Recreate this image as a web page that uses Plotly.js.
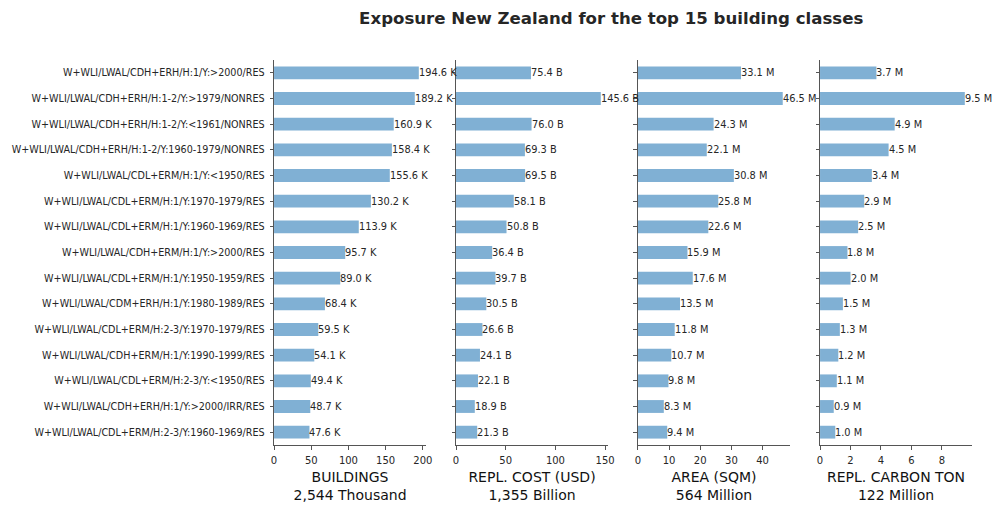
<!DOCTYPE html>
<html>
<head>
<meta charset="utf-8">
<script src="https://cdn.plot.ly/plotly-3.0.1.min.js"></script>
<style>html,body{margin:0;padding:0;background:#fff;}#chart{width:1002px;height:510px;}</style>
</head>
<body>
<div id="chart"></div>
<script>
// Top 15 building classes, New Zealand exposure
const classes = [
  "W+WLI/LWAL/CDH+ERH/H:1/Y:>2000/RES",
  "W+WLI/LWAL/CDH+ERH/H:1-2/Y:>1979/NONRES",
  "W+WLI/LWAL/CDH+ERH/H:1-2/Y:<1961/NONRES",
  "W+WLI/LWAL/CDH+ERH/H:1-2/Y:1960-1979/NONRES",
  "W+WLI/LWAL/CDL+ERM/H:1/Y:<1950/RES",
  "W+WLI/LWAL/CDL+ERM/H:1/Y:1970-1979/RES",
  "W+WLI/LWAL/CDL+ERM/H:1/Y:1960-1969/RES",
  "W+WLI/LWAL/CDH+ERM/H:1/Y:>2000/RES",
  "W+WLI/LWAL/CDL+ERM/H:1/Y:1950-1959/RES",
  "W+WLI/LWAL/CDM+ERH/H:1/Y:1980-1989/RES",
  "W+WLI/LWAL/CDL+ERM/H:2-3/Y:1970-1979/RES",
  "W+WLI/LWAL/CDH+ERM/H:1/Y:1990-1999/RES",
  "W+WLI/LWAL/CDL+ERM/H:2-3/Y:<1950/RES",
  "W+WLI/LWAL/CDH+ERH/H:1/Y:>2000/IRR/RES",
  "W+WLI/LWAL/CDL+ERM/H:2-3/Y:1960-1969/RES"
];

// Buildings (thousands)
const buildings = [194.6, 189.2, 160.9, 158.4, 155.6, 130.2, 113.9, 95.7, 89.0, 68.4, 59.5, 54.1, 49.4, 48.7, 47.6];
// Replacement cost (billion USD)
const replCost = [75.4, 145.6, 76.0, 69.3, 69.5, 58.1, 50.8, 36.4, 39.7, 30.5, 26.6, 24.1, 22.1, 18.9, 21.3];
// Floor area (million sqm)
const area = [33.1, 46.5, 24.3, 22.1, 30.8, 25.8, 22.6, 15.9, 17.6, 13.5, 11.8, 10.7, 9.8, 8.3, 9.4];
// Replacement carbon (million tons)
const carbon = [3.7, 9.5, 4.9, 4.5, 3.4, 2.9, 2.5, 1.8, 2.0, 1.5, 1.3, 1.2, 1.1, 0.9, 1.0];

const panelTitles = ["BUILDINGS<br>2,544 Thousand", "REPL. COST (USD)<br>1,355 Billion", "AREA (SQM)<br>564 Million", "REPL. CARBON TON<br>122 Million"];
const panelUnits = ["K", "B", "M", "M"];
const panelTicks = [50, 50, 10, 2];

const series = [buildings, replCost, area, carbon];
const barColor = "#80b0d4";
const inkColor = "#262626";
const axisColor = "#555555";
const font = "DejaVu Sans, sans-serif";

const domains = [[0.2735, 0.4252], [0.4551, 0.6068], [0.6367, 0.7884], [0.8184, 0.9701]];

const traces = series.map((vals, i) => ({
  type: "bar",
  orientation: "h",
  x: vals,
  y: classes,
  xaxis: i === 0 ? "x" : "x" + (i + 1),
  yaxis: i === 0 ? "y" : "y" + (i + 1),
  marker: {color: barColor},
  width: 0.5,
  hoverinfo: "x+y",
  showlegend: false
}));

// Value labels placed just past the end of each bar
const annotations = [];
series.forEach((vals, i) => {
  const sfx = i === 0 ? "" : String(i + 1);
  vals.forEach((v, k) => {
    annotations.push({
      x: v, y: classes[k],
      xref: "x" + sfx, yref: "y" + sfx,
      text: v.toFixed(1) + " " + panelUnits[i],
      showarrow: false,
      xanchor: "left", yanchor: "middle",
      xshift: -1,
      borderpad: 0,
      font: {family: font, size: 9.8, color: inkColor}
    });
  });
});

const layout = {
  width: 1002,
  height: 510,
  margin: {l: 0, r: 0, t: 60, b: 65},
  paper_bgcolor: "#ffffff",
  plot_bgcolor: "rgba(0,0,0,0)",
  font: {family: font, color: inkColor},
  title: {
    text: "<b>Exposure New Zealand for the top 15 building classes</b>",
    font: {family: font, size: 16.6, color: inkColor},
    x: 0.61, xanchor: "center", y: 0.975, yanchor: "top"
  },
  bargap: 0.5,
  annotations: annotations
};

series.forEach((vals, i) => {
  const sfx = i === 0 ? "" : String(i + 1);
  const maxV = Math.max(...vals);
  layout["xaxis" + sfx] = {
    domain: domains[i],
    anchor: "y" + sfx,
    range: [0, maxV * 1.05],
    dtick: panelTicks[i],
    tick0: 0,
    showgrid: false,
    zeroline: false,
    showline: true,
    linecolor: axisColor,
    linewidth: 1,
    ticks: "outside",
    ticklen: 3.5,
    tickcolor: axisColor,
    ticklabelstandoff: 2,
    tickfont: {family: font, size: 10, color: inkColor},
    title: {text: panelTitles[i], font: {family: font, size: 14, color: "#111111"}, standoff: 7}
  };
  layout["yaxis" + sfx] = {
    domain: [0, 1],
    anchor: "x" + sfx,
    type: "category",
    categoryorder: "array",
    categoryarray: classes,
    autorange: "reversed",
    showgrid: false,
    zeroline: false,
    showline: true,
    linecolor: axisColor,
    linewidth: 1,
    ticks: "outside",
    ticklen: 3.5,
    tickcolor: axisColor,
    ticklabelstandoff: 3,
    showticklabels: i === 0,
    tickfont: {family: font, size: 9.6, color: inkColor}
  };
});

Plotly.newPlot("chart", traces, layout, {displayModeBar: false, staticPlot: true});
</script>
</body>
</html>
